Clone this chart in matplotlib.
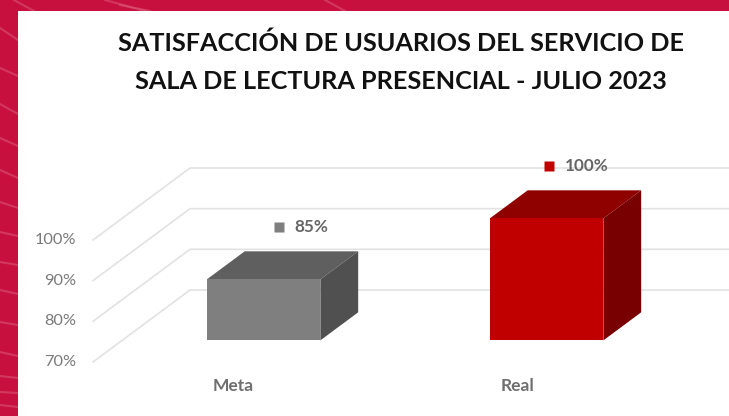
import matplotlib
matplotlib.use('Agg')
import matplotlib.pyplot as plt
from matplotlib.lines import Line2D
from matplotlib.patches import Polygon, Rectangle

categories = ['Meta', 'Real']
values = [85, 100]
value_labels = ['85%', '100%']
y_ticks = [70, 80, 90, 100]
y_tick_labels = ['70%', '80%', '90%', '100%']
title = 'SATISFACCIÓN DE USUARIOS DEL SERVICIO DE\nSALA DE LECTURA PRESENCIAL - JULIO 2023'

front_colors = ['#7f7f7f', '#c00000']
top_colors = ['#5f5f5f', '#8f0000']
side_colors = ['#505050', '#780000']
label_shift = [-22, -35]  # px, marker relative to the bar's top centre
cat_shift = [-51, -46]  # px, category label relative to the bar centre

W, H = 729, 416
BAND = '#c8103e'
STREAK = '#dc5a78'

# streaks of the slide background, in pixels
streaks = [
    (0, 28, 18, 40), (0, 68, 18, 76), (0, 104, 18, 114), (0, 138, 18, 146),
    (0, 170, 18, 178), (0, 202, 18, 208), (0, 232, 18, 236), (0, 262, 18, 265),
    (0, 290, 18, 294), (0, 322, 18, 325), (0, 352, 18, 356), (0, 376, 18, 378),
    (0, 392, 18, 393), (0, 405, 18, 407), (14, 0, 34, 11), (105, 0, 145, 11),
    (325, 0, 345, 11), (120, 5, 150, 11),
]

plt.rcParams['font.family'] = ['Lato', 'DejaVu Sans']
fig = plt.figure(figsize=(W / 100, H / 100), dpi=100, facecolor=BAND)

for x0, y0, x1, y1 in streaks:
    fig.add_artist(Line2D([x0 / W, x1 / W], [1 - y0 / H, 1 - y1 / H], color=STREAK, lw=1.5, alpha=0.55, zorder=-2))
fig.add_artist(Rectangle((18 / W, 0), (W - 18) / W, (H - 11) / H, transform=fig.transFigure,
                         facecolor='white', edgecolor='none', zorder=-1))

# axes box is the front plane of the 3D chart
left, right, top, bottom = 93, 659, 240, 362
ax = fig.add_axes([left / W, 1 - bottom / H, (right - left) / W, (bottom - top) / H])
ax.set_xlim(-0.5, 1.5)
ax.set_ylim(70, 100)
ax.axis('off')

px_x = 2 / (right - left)
px_y = 30 / (bottom - top)
depth_x = 97 * px_x
depth_y = 72 * px_y


def project(x, y, f):
    return x + f * depth_x, y + f * depth_y


# walls and gridlines
for t, lab in zip(y_ticks, y_tick_labels):
    pts = [project(-0.5, t, 0), project(-0.5, t, 1), project(1.5, t, 1)]
    ax.plot([p[0] for p in pts], [p[1] for p in pts], color='#e2e2e2', lw=1.2, clip_on=False, zorder=1)
    ax.text(-0.5 - 17 * px_x, t, lab, ha='right', va='center', fontsize=11.8, color='#7a7a7a', clip_on=False)

# bars
bar_w = 113.5 * px_x
f0, f1 = 0.30, 0.69
for i, (cat, v) in enumerate(zip(categories, values)):
    xl, xr = i - bar_w / 2, i + bar_w / 2
    a = project(xl, 70, f0)
    b = project(xr, 70, f0)
    c = project(xr, v, f0)
    d = project(xl, v, f0)
    e = project(xl, v, f1)
    g = project(xr, v, f1)
    h = project(xr, 70, f1)
    ax.add_patch(Polygon([d, c, g, e], facecolor=top_colors[i], edgecolor='none', clip_on=False, zorder=3))
    ax.add_patch(Polygon([b, h, g, c], facecolor=side_colors[i], edgecolor='none', clip_on=False, zorder=3))
    ax.add_patch(Polygon([a, b, c, d], facecolor=front_colors[i], edgecolor='none', clip_on=False, zorder=4))

    # value label with its small key square
    cx, cy = project(i, v, f1)
    mx = cx + label_shift[i] * px_x
    my = cy + 24 * px_y
    ax.plot([mx], [my], marker='s', ms=7.5, color=front_colors[i], mec='none', clip_on=False, zorder=5)
    ax.text(mx + 15 * px_x, my, value_labels[i], ha='left', va='center', fontsize=12.3, fontweight='bold',
            color='#666666', clip_on=False, zorder=5)

    # category label
    lx = project(i, 70, f0)[0]
    ax.text(lx + cat_shift[i] * px_x, 70 - 24 * px_y, cat, ha='left', va='center', fontsize=12.5,
            fontweight='bold', color='#6f6f6f', clip_on=False)

fig.text(401 / W, 1 - 62 / H, title, ha='center', va='center', fontsize=18.2, fontweight='bold',
         color='#111111', linespacing=1.78)

fig.savefig('out.png', dpi=100, facecolor=fig.get_facecolor())
